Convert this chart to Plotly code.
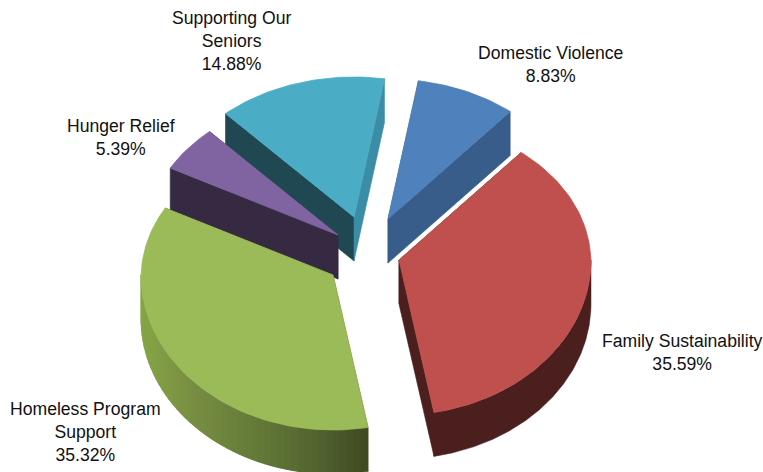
import math
import plotly.graph_objects as go

# Programme shares, clockwise from the top of the pie
categories = ["Domestic Violence", "Family Sustainability", "Homeless Program<br>Support",
              "Hunger Relief", "Supporting Our<br>Seniors"]
shares = [8.83, 35.59, 35.32, 5.39, 14.88]

# Appearance of each slice
top_colors = ["#4F81BD", "#C0504D", "#9BBB59", "#8064A2", "#4BACC6"]
start_face_colors = ["#385D8A", "#4C1F1F", "#3E4920", "#352A42", "#1F4853"]
end_face_colors = ["#385D8A", "#4C1F1F", "#3E4920", "#352A42", "#3A8DA5"]
rim_stops = [
    ["#385D8A"],
    ["#4C1F1F"],
    ["#86A546", "#778C42", "#647A37", "#546631", "#3E4920"],
    ["#352A42"],
    ["#1F4853"],
]

# Pie geometry in page pixels
CENTER_X, CENTER_Y = 365, 245
RX, RY_BACK, RY_FRONT = 192, 140, 155
BACK_NARROWING = 0.05
DEPTH = 44
FIRST_ANGLE = 9.6
explode_x = [23, 34, -32, -27, -11]
explode_y = [-26, 15, 30, -10, -28]
draw_order = [0, 4, 3, 2, 1]

# Label centres, one for each slice
label_x = [550, 682, 85, 121, 231]
label_y = [64, 352, 432, 137, 41]


def rim_point(cx, cy, degrees):
    """Rim position for a clockwise angle; the far half sits slightly narrower."""
    a = math.radians(degrees)
    c = math.cos(a)
    if c > 0:
        return cx + RX * math.sin(a) * (1 - BACK_NARROWING * c), cy - RY_BACK * c ** 0.92
    return cx + RX * math.sin(a), cy - RY_FRONT * c


def arc(cx, cy, start, end, step=1.5):
    n = max(2, int(abs(end - start) / step) + 1)
    return [rim_point(cx, cy, start + (end - start) * i / (n - 1)) for i in range(n)]


def mix(stops, t):
    pos = min(t, 0.9999) * (len(stops) - 1)
    i = int(pos)
    f = pos - i
    a = [int(stops[i][k:k + 2], 16) for k in (1, 3, 5)]
    b = [int(stops[i + 1][k:k + 2], 16) for k in (1, 3, 5)]
    return "rgb({},{},{})".format(*[round(p + (q - p) * f) for p, q in zip(a, b)])


def polygon(points, color, edge=0.6):
    xs = [p[0] for p in points] + [points[0][0]]
    ys = [p[1] for p in points] + [points[0][1]]
    return go.Scatter(x=xs, y=ys, mode="lines", fill="toself", fillcolor=color,
                      line=dict(color=color, width=edge), hoverinfo="skip")


def wall(cx, cy, a0, a1, color):
    upper = arc(cx, cy, a0, a1, 0.5)
    lower = [(x, y + DEPTH) for x, y in reversed(upper)]
    return polygon(upper + lower, color, 0.5)


fig = go.Figure()
total = sum(shares)

# Slice angular ranges follow the shares
ranges = []
angle = FIRST_ANGLE
for value in shares:
    sweep = 360 * value / total
    ranges.append((angle, angle + sweep))
    angle += sweep

for i in draw_order:
    start, end = ranges[i]
    ax, ay = CENTER_X + explode_x[i], CENTER_Y + explode_y[i]

    # Cut faces running from the apex out to the rim
    for edge_angle, color in ((start, start_face_colors[i]), (end, end_face_colors[i])):
        px, py = rim_point(ax, ay, edge_angle)
        fig.add_trace(polygon([(ax, ay), (px, py), (px, py + DEPTH), (ax, ay + DEPTH)], color))

    # Outer wall, only where the rim faces the viewer
    low, high = max(start, 90), min(end, 270)
    if high > low:
        stops = rim_stops[i]
        if len(stops) == 1:
            fig.add_trace(wall(ax, ay, low, high, stops[0]))
        else:
            # Shaded wall: overlapping bands, painted right to left so no seams show
            left_x = rim_point(ax, ay, high)[0]
            right_x = rim_point(ax, ay, low)[0]
            segments = 48
            width = (high - low) / segments
            for s in range(segments):
                a0 = low + width * s
                a1 = min(high, a0 + 2 * width)
                x_mid = rim_point(ax, ay, a0 + width / 2)[0]
                t = (x_mid - left_x) / (right_x - left_x)
                fig.add_trace(wall(ax, ay, a0, a1, mix(stops, t)))

    # Top surface
    fig.add_trace(polygon([(ax, ay)] + arc(ax, ay, start, end), top_colors[i], 0.8))

# Slice labels carry the category name and its share
for i, name in enumerate(categories):
    fig.add_annotation(x=label_x[i], y=label_y[i], xref="x", yref="y", showarrow=False,
                       align="center", text=f"{name}<br>{shares[i]:.2f}%",
                       font=dict(family="Liberation Sans", size=17.6, color="#111111"))

fig.update_xaxes(range=[0, 763], visible=False, fixedrange=True)
fig.update_yaxes(range=[472, 0], visible=False, fixedrange=True)
fig.update_layout(width=763, height=472, margin=dict(l=0, r=0, t=0, b=0),
                  paper_bgcolor="white", plot_bgcolor="white", showlegend=False)
fig.write_html("out.html", config=dict(displayModeBar=False))
